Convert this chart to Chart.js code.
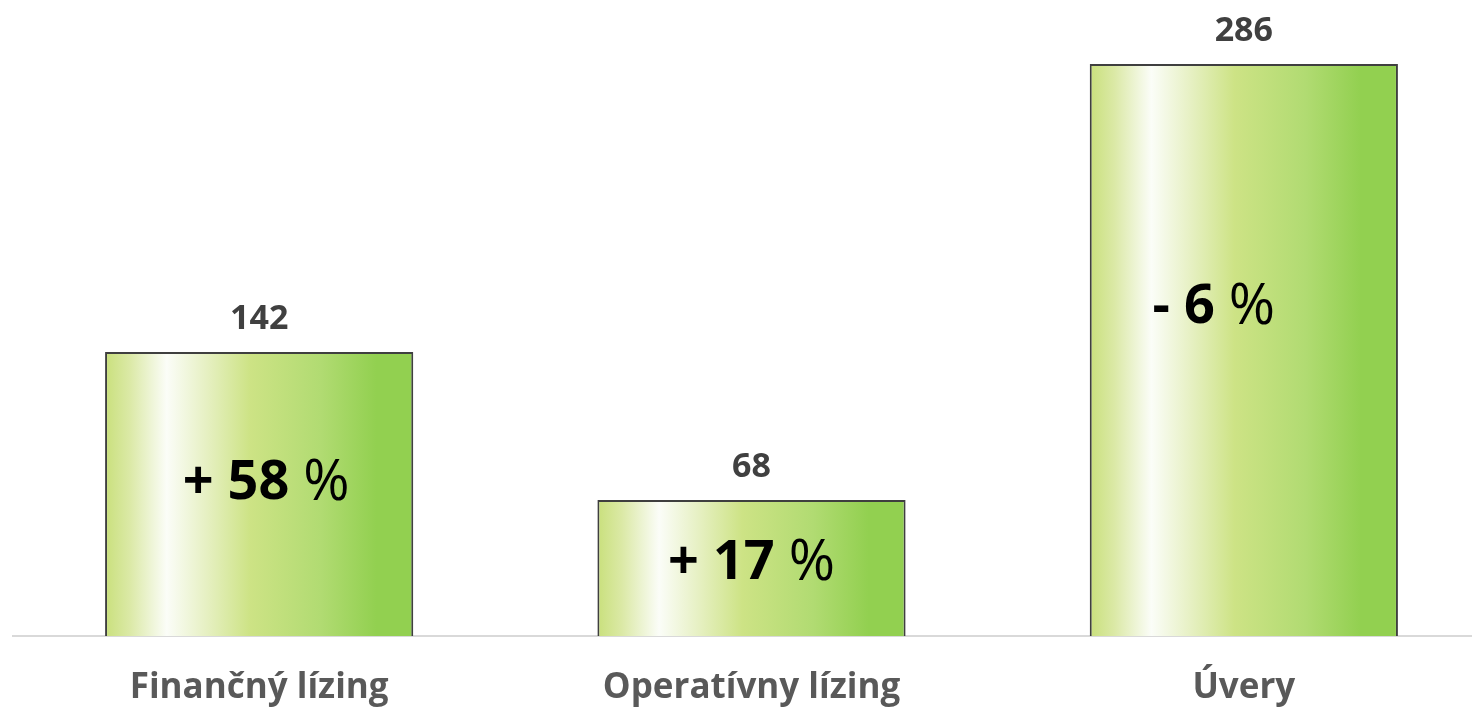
<!DOCTYPE html>
<html>
<head>
<meta charset="utf-8">
<script src="https://cdn.jsdelivr.net/npm/chart.js@4.4.1/dist/chart.umd.min.js"></script>
<style>
  html, body { margin: 0; padding: 0; background: #ffffff; overflow: hidden; }
  #wrap { position: relative; width: 1490px; height: 707px; }
</style>
</head>
<body>
<div id="wrap"><canvas id="c"></canvas></div>
<script>
// ---- data ----
const categories = ['Finančný lízing', 'Operatívny lízing', 'Úvery'];
const values = [142, 68, 286];
const changeSign = ['+', '+', '-'];
const changeValue = ['58', '17', '6'];
// annotation anchors (data units on y axis) and horizontal nudges (px)
const changeAnchorY = [76, 36, 164];
const changeNudgeX = [7, 0, -30];

const FONT = '"Open Sans", Lato, "DejaVu Sans", sans-serif';

function barGradient(ctx) {
  const chart = ctx.chart;
  const xs = chart.scales.x;
  const ca = chart.chartArea;
  if (!xs || !ca || ctx.dataIndex === undefined) return '#b5dc6a';
  const cx = xs.getPixelForValue(ctx.dataIndex);
  const catW = (ca.right - ca.left) / categories.length;
  const w = catW * 0.626;
  const x0 = cx - w / 2, x1 = cx + w / 2;
  const g = chart.ctx.createLinearGradient(x0, 0, x1, 0);
  g.addColorStop(0.00, '#c9e07c');
  g.addColorStop(0.08, '#dbe9a6');
  g.addColorStop(0.20, '#fbfdf8');
  g.addColorStop(0.33, '#e6f0c2');
  g.addColorStop(0.47, '#cde385');
  g.addColorStop(0.70, '#b1db72');
  g.addColorStop(0.88, '#92d050');
  g.addColorStop(1.00, '#92d050');
  return g;
}

const labelPlugin = {
  id: 'labels',
  afterDatasetsDraw(chart) {
    const ctx = chart.ctx;
    const meta = chart.getDatasetMeta(0);
    const ys = chart.scales.y;
    ctx.save();
    meta.data.forEach((bar, i) => {
      // value labels
      ctx.font = 'bold 34px ' + FONT;
      ctx.fillStyle = '#404040';
      ctx.textAlign = 'center';
      ctx.textBaseline = 'middle';
      ctx.fillText(String(values[i]), bar.x, bar.y - 33);
      // change labels
      const boldPart = changeSign[i] + ' ' + changeValue[i] + ' ';
      ctx.font = 'bold 54px ' + FONT;
      const wb = ctx.measureText(boldPart).width;
      ctx.font = '56px ' + FONT;
      const wp = ctx.measureText('%').width;
      const total = wb + wp;
      const cy = ys.getPixelForValue(changeAnchorY[i]);
      let x = bar.x + changeNudgeX[i] - total / 2;
      ctx.textAlign = 'left';
      ctx.fillStyle = '#000000';
      ctx.font = 'bold 54px ' + FONT;
      ctx.fillText(boldPart, x, cy);
      ctx.font = '56px ' + FONT;
      ctx.fillText('%', x + wb, cy);
    });
    ctx.restore();
  }
};

new Chart(document.getElementById('c'), {
  type: 'bar',
  data: {
    labels: categories,
    datasets: [{
      data: values,
      backgroundColor: barGradient,
      borderColor: '#3f3f3f',
      borderWidth: 2,
      borderSkipped: 'bottom',
      categoryPercentage: 1.0,
      barPercentage: 0.626
    }]
  },
  options: {
    responsive: true,
    maintainAspectRatio: false,
    animation: false,
    layout: { padding: { left: 13, right: 0, top: 0, bottom: 0 } },
    plugins: { legend: { display: false }, tooltip: { enabled: false } },
    scales: {
      x: {
        grid: { display: false, drawTicks: false },
        border: { display: true, color: '#d9d9d9', width: 2 },
        ticks: {
          font: { family: FONT, size: 35, weight: 'bold' },
          color: '#595959',
          padding: 31
        },
        afterFit: s => { s.height = 71; }
      },
      y: {
        display: false,
        min: 0,
        max: 318
      }
    }
  },
  plugins: [labelPlugin]
});
</script>
</body>
</html>
